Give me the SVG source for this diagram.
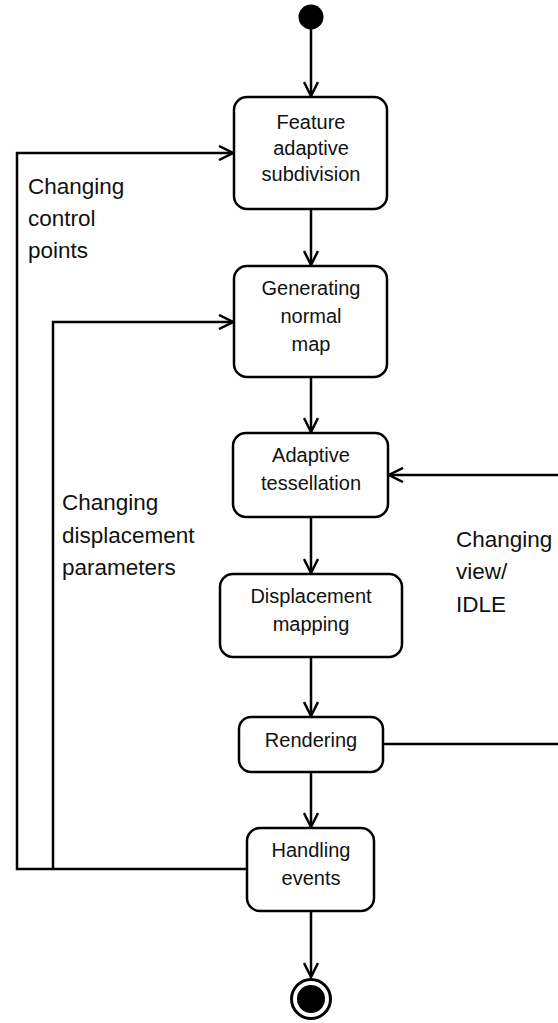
<svg xmlns="http://www.w3.org/2000/svg" width="558" height="1023" viewBox="0 0 558 1023">
<style>
.box{fill:#fff;stroke:#000;stroke-width:2.5}
.lbl{font-family:"Liberation Sans",Arial,sans-serif;font-size:20px;fill:#111;text-anchor:middle}
.note{font-family:"Liberation Sans",Arial,sans-serif;font-size:22.5px;fill:#111}
.edge{fill:none;stroke:#000;stroke-width:2.5}
</style>
<defs>
<marker id="arr" viewBox="0 0 16 16" refX="15" refY="8" markerWidth="16" markerHeight="16" markerUnits="userSpaceOnUse" orient="auto">
<path d="M1,1 L15,8 L1,15" fill="none" stroke="#000" stroke-width="2.5"/>
</marker>
</defs>
<g id="connectors">
<path class="edge" d="M311,29 V96" marker-end="url(#arr)"/>
<path class="edge" d="M311,209 V265" marker-end="url(#arr)"/>
<path class="edge" d="M311,377 V432" marker-end="url(#arr)"/>
<path class="edge" d="M311,517 V573" marker-end="url(#arr)"/>
<path class="edge" d="M311,657 V716" marker-end="url(#arr)"/>
<path class="edge" d="M311,772 V827" marker-end="url(#arr)"/>
<path class="edge" d="M311,911 V977" marker-end="url(#arr)"/>
<path class="edge" d="M247,869 H17 V153 H233" marker-end="url(#arr)"/>
<path class="edge" d="M53,869 V322 H233" marker-end="url(#arr)"/>
<path class="edge" d="M383,744 H561 V475 H389" marker-end="url(#arr)"/>
</g>
<g id="start"><circle cx="311" cy="17" r="12.5" fill="#000"/></g>
<g id="n1"><rect class="box" x="234" y="97" width="153" height="112" rx="13"/>
<text class="lbl" x="311" y="129">Feature</text><text class="lbl" x="311" y="155">adaptive</text><text class="lbl" x="311" y="181">subdivision</text></g>
<g id="n2"><rect class="box" x="234" y="266" width="153" height="111" rx="13"/>
<text class="lbl" x="311" y="295">Generating</text><text class="lbl" x="311" y="323">normal</text><text class="lbl" x="311" y="351">map</text></g>
<g id="n3"><rect class="box" x="233" y="433" width="155" height="84" rx="13"/>
<text class="lbl" x="311" y="462">Adaptive</text><text class="lbl" x="311" y="490">tessellation</text></g>
<g id="n4"><rect class="box" x="220" y="574" width="182" height="83" rx="13"/>
<text class="lbl" x="311" y="603">Displacement</text><text class="lbl" x="311" y="631">mapping</text></g>
<g id="n5"><rect class="box" x="239" y="717" width="144" height="55" rx="12"/>
<text class="lbl" x="311" y="747">Rendering</text></g>
<g id="n6"><rect class="box" x="247" y="828" width="127" height="83" rx="13"/>
<text class="lbl" x="311" y="857">Handling</text><text class="lbl" x="311" y="885">events</text></g>
<g id="end"><circle cx="311" cy="999" r="19.5" fill="#fff" stroke="#000" stroke-width="3"/><circle cx="311" cy="999" r="14" fill="#000"/></g>
<g id="labels">
<text class="note" x="28" y="194">Changing</text><text class="note" x="28" y="226">control</text><text class="note" x="28" y="258">points</text>
<text class="note" x="62" y="510">Changing</text><text class="note" x="62" y="543">displacement</text><text class="note" x="62" y="575">parameters</text>
<text class="note" x="456" y="547">Changing</text><text class="note" x="456" y="579">view/</text><text class="note" x="456" y="612">IDLE</text>
</g>
</svg>
